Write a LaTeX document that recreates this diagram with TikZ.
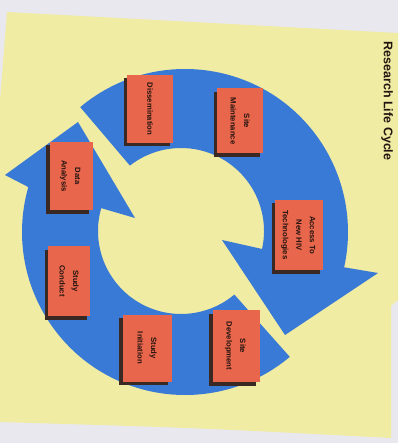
\documentclass[tikz,border=0pt]{standalone}
\usepackage{fontspec}
\setmainfont{Liberation Sans}
\usetikzlibrary{calc,shadows}
\definecolor{paper}{RGB}{233,232,238}
\definecolor{pad}{RGB}{240,236,164}
\definecolor{ringblue}{RGB}{56,122,214}
\definecolor{boxface}{RGB}{232,102,76}
\definecolor{boxshade}{RGB}{58,40,34}
\definecolor{ink}{RGB}{35,20,16}
\begin{document}
\begin{tikzpicture}[x=1pt,y=-1pt,
  card/.style={fill=boxface, inner sep=0pt, text=ink,
    general shadow={fill=boxshade, shadow xshift=-3.5pt, shadow yshift=-3.5pt},
    font=\bfseries\fontsize{7.7}{13.5}\selectfont},
  ring/.style={fill=ringblue}]
\useasboundingbox (0,0) rectangle (398,443);
\fill[paper] (0,0) rectangle (398,443);
\fill[pad] (7,12) -- (398,33) -- (398,300) -- (391,306) -- (391,438)
  .. controls (200,428) .. (0,422) -- (0,100) -- cycle;
\coordinate (Co) at (185,232);
\coordinate (Ci) at (181,231);
% top arrow
\fill[ring] ($(Co)+(230:163)$) arc[start angle=230, end angle=372.5, radius=163]
  -- (378,273) -- (285,335) -- (222,240) -- ($(Ci)+(12.5:83)$)
  arc[start angle=12.5, end angle=-128, radius=83] -- cycle;
% bottom arrow
\fill[ring] ($(Co)+(50:163)$) arc[start angle=50, end angle=196, radius=163]
  -- (5,175) -- (78,122) -- (135,218) -- ($(Ci)+(196:83)$)
  arc[start angle=196, end angle=50, radius=83] -- cycle;
% cards
\node[card, minimum width=46, minimum height=68] (diss) at (150,109)
  {\rotatebox{-90}{\begin{tabular}{@{}c@{}}Dissemination\end{tabular}}};
\node[card, minimum width=46, minimum height=65] (sitem) at (240,121)
  {\rotatebox{-90}{\begin{tabular}{@{}c@{}}Site\\Maintenance\end{tabular}}};
\node[card, minimum width=48, minimum height=70] (access) at (299,235)
  {\rotatebox{-90}{\begin{tabular}{@{}c@{}}Access To\\New HIV\\Technologies\end{tabular}}};
\node[card, minimum width=47, minimum height=72] (sitedev) at (236,346)
  {\rotatebox{-90}{\begin{tabular}{@{}c@{}}Site\\Development\end{tabular}}};
\node[card, minimum width=49, minimum height=67] (init) at (147,348)
  {\rotatebox{-90}{\begin{tabular}{@{}c@{}}Study\\Initiation\end{tabular}}};
\node[card, minimum width=42, minimum height=70] (conduct) at (69,281)
  {\rotatebox{-90}{\begin{tabular}{@{}c@{}}Study\\Conduct\end{tabular}}};
\node[card, minimum width=43, minimum height=68] (data) at (71,176)
  {\rotatebox{-90}{\begin{tabular}{@{}c@{}}Data\\Analysis\end{tabular}}};
% title
\node[rotate=-90, text=ink, font=\bfseries\fontsize{12.5}{15}\selectfont] (title) at (387,101) {Research Life Cycle};
\end{tikzpicture}
\end{document}
